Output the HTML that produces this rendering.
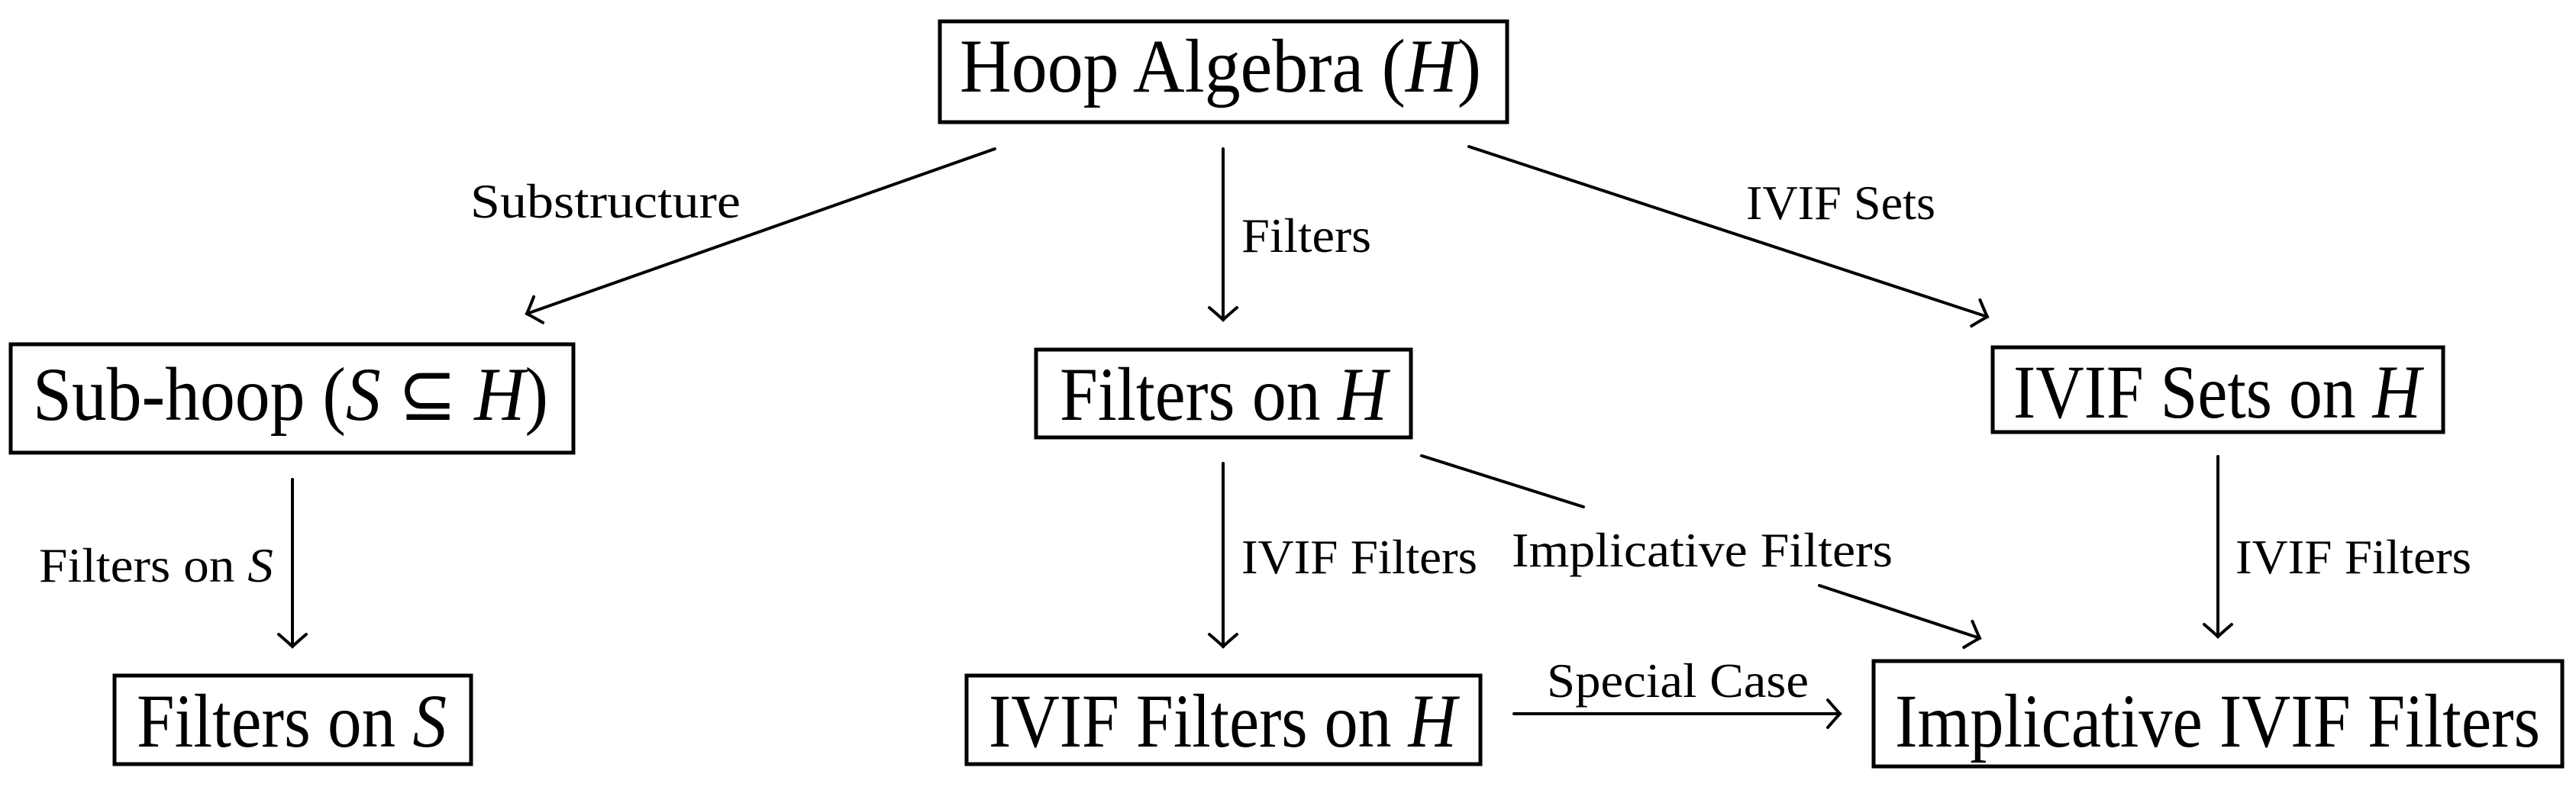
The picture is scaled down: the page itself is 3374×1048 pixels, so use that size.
<!DOCTYPE html>
<html><head><meta charset="utf-8"><style>
html,body{margin:0;padding:0;background:#fff;overflow:hidden}
svg{display:block}
text{font-family:"Liberation Serif",serif;fill:#000}
.b{font-size:100px}
.l{font-size:64px}
</style></head><body>
<svg width="3374" height="1048" viewBox="0 0 3374 1048" xmlns="http://www.w3.org/2000/svg">
<g fill="none" stroke="#000" stroke-width="5">
<rect x="1231" y="28" width="743" height="132"/>
<rect x="14" y="451" width="737" height="142"/>
<rect x="1357" y="458" width="491" height="115"/>
<rect x="2610" y="455" width="590" height="111"/>
<rect x="150" y="885" width="467" height="116"/>
<rect x="1266" y="885" width="673" height="116"/>
<rect x="2454" y="866" width="902" height="138"/>
</g>
<g fill="none" stroke="#000" stroke-width="4" stroke-linecap="round">
<line x1="1303" y1="195" x2="690" y2="411"/>
<line x1="1602" y1="195" x2="1602" y2="419"/>
<line x1="1924" y1="192" x2="2603" y2="415"/>
<line x1="1862" y1="597" x2="2074" y2="664"/>
<line x1="2383" y1="767" x2="2593" y2="836"/>
<line x1="1602" y1="607" x2="1602" y2="847"/>
<line x1="383" y1="628" x2="383" y2="847"/>
<line x1="2905" y1="598" x2="2905" y2="834"/>
<line x1="1983" y1="935" x2="2410" y2="935"/>
</g>
<defs>
<path id="ah" d="M-16,-18 Q-4,-4 0,0 Q-4,4 -16,18" fill="none" stroke="#000" stroke-width="4" stroke-linecap="round"/>
</defs>
<use href="#ah" transform="translate(690,411) rotate(160.6)"/>
<use href="#ah" transform="translate(1602,419) rotate(90)"/>
<use href="#ah" transform="translate(2603,415) rotate(18.2)"/>
<use href="#ah" transform="translate(2593,836) rotate(18.2)"/>
<use href="#ah" transform="translate(1602,847) rotate(90)"/>
<use href="#ah" transform="translate(383,847) rotate(90)"/>
<use href="#ah" transform="translate(2905,834) rotate(90)"/>
<use href="#ah" transform="translate(2410,935) rotate(0)"/>

<text class="b" x="1257" y="120" textLength="683" lengthAdjust="spacingAndGlyphs">Hoop Algebra (<tspan font-style="italic">H</tspan>)</text>
<text class="b" x="43" y="550" textLength="675" lengthAdjust="spacingAndGlyphs">Sub-hoop (<tspan font-style="italic">S</tspan> ⊆ <tspan font-style="italic">H</tspan>)</text>
<text class="b" x="1388" y="550" textLength="429" lengthAdjust="spacingAndGlyphs">Filters on <tspan font-style="italic">H</tspan></text>
<text class="b" x="2637" y="547" textLength="534" lengthAdjust="spacingAndGlyphs">IVIF Sets on <tspan font-style="italic">H</tspan></text>
<text class="b" x="179" y="978" textLength="406" lengthAdjust="spacingAndGlyphs">Filters on <tspan font-style="italic">S</tspan></text>
<text class="b" x="1295" y="978" textLength="613" lengthAdjust="spacingAndGlyphs">IVIF Filters on <tspan font-style="italic">H</tspan></text>
<text class="b" x="2482" y="978" textLength="845" lengthAdjust="spacingAndGlyphs">Implicative IVIF Filters</text>

<text class="l" x="616" y="285" textLength="354" lengthAdjust="spacingAndGlyphs">Substructure</text>
<text class="l" x="1626" y="330" textLength="170" lengthAdjust="spacingAndGlyphs">Filters</text>
<text class="l" x="2287" y="287" textLength="248" lengthAdjust="spacingAndGlyphs">IVIF Sets</text>
<text class="l" x="1980" y="742" textLength="499" lengthAdjust="spacingAndGlyphs">Implicative Filters</text>
<text class="l" x="1626" y="751" textLength="309" lengthAdjust="spacingAndGlyphs">IVIF Filters</text>
<text class="l" x="51" y="762" textLength="307" lengthAdjust="spacingAndGlyphs">Filters on <tspan font-style="italic">S</tspan></text>
<text class="l" x="2928" y="751" textLength="309" lengthAdjust="spacingAndGlyphs">IVIF Filters</text>
<text class="l" x="2026" y="913" textLength="343" lengthAdjust="spacingAndGlyphs">Special Case</text>
</svg>
</body></html>
